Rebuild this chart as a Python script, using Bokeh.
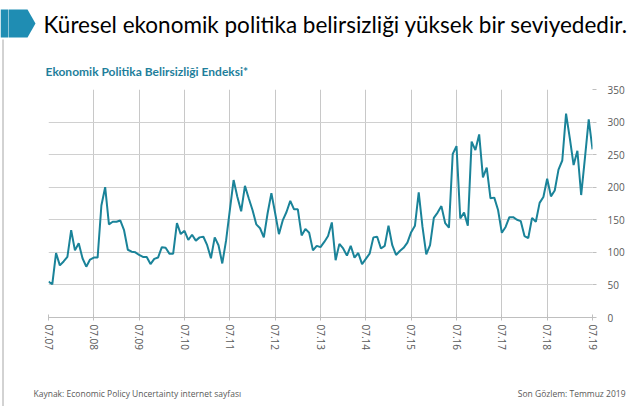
from bokeh.plotting import figure
from bokeh.layouts import column, row
from bokeh.models import FixedTicker, Range1d, ColumnDataSource
from bokeh.core.properties import value
from bokeh.embed import file_html
from bokeh.resources import INLINE

# ---- data ----
title_text = "Küresel ekonomik politika belirsizliği yüksek bir seviyededir."
subtitle_text = "Ekonomik Politika Belirsizliği Endeksi*"
source_text = "Kaynak: Economic Policy Uncertainty internet sayfası"
last_obs_text = "Son Gözlem: Temmuz 2019"

year_labels = ["07.07", "07.08", "07.09", "07.10", "07.11", "07.12", "07.13",
               "07.14", "07.15", "07.16", "07.17", "07.18", "07.19"]
y_ticks = [0, 50, 100, 150, 200, 250, 300, 350]

epu = [55, 51, 99, 80, 86, 93, 134, 103, 114, 91, 78, 89,
       92, 92, 172, 200, 143, 147, 147, 149, 134, 104, 101, 100,
       96, 93, 93, 82, 90, 92, 108, 107, 98, 98, 145, 128,
       133, 119, 127, 118, 123, 124, 111, 91, 123, 111, 83, 118,
       165, 211, 185, 163, 202, 183, 165, 143, 137, 123, 160, 191,
       160, 128, 149, 162, 179, 166, 166, 126, 136, 130, 103, 110,
       108, 116, 125, 146, 88, 113, 106, 95, 110, 92, 99, 82,
       90, 98, 123, 124, 106, 110, 141, 111, 96, 102, 107, 115,
       131, 141, 192, 139, 97, 111, 153, 161, 171, 145, 138, 251,
       263, 152, 161, 141, 270, 257, 281, 215, 230, 183, 184, 165,
       130, 139, 154, 154, 150, 148, 125, 122, 153, 147, 176, 185,
       213, 186, 195, 227, 241, 313, 275, 234, 256, 188, 245, 304,
       258]
months = list(range(len(epu)))

TOTAL_W, TOTAL_H = 640, 406
STRIP_W = 8
W = TOTAL_W - STRIP_W
HEAD_H, MAIN_H = 80, 300
FOOT_H = TOTAL_H - HEAD_H - MAIN_H
FRAME_L, FRAME_R, FRAME_T, FRAME_B = 48, 592, 89, 317
N = len(epu) - 1
BORDER = "#a6a6a6"

def blank(w, h, x0, y0):
    f = figure(width=w, height=h, output_backend="svg", toolbar_location=None,
               x_range=Range1d(x0, x0 + w), y_range=Range1d(y0 + h, y0),
               min_border=0, frame_align=False)
    f.axis.visible = False
    f.grid.visible = False
    f.outline_line_color = None
    f.background_fill_color = "white"
    f.border_fill_color = "white"
    return f

# ---- left slide border strip ----
strip = blank(STRIP_W, TOTAL_H, 0, 0)
strip.patch([0, 8, 8, 0], [9, 9, 37, 37], fill_color="#1f8db3", line_color=None)
strip.segment(x0=[2.5], y0=[39], x1=[2.5], y1=[TOTAL_H], line_color=BORDER, line_width=1)

# ---- header ----
head = blank(W, HEAD_H, STRIP_W, 0)
head.patch([0, 27, 35, 27, 0], [9, 9, 23, 37, 37], fill_color="#1f8db3", line_color=None)
head.text(x=[43], y=[24], text=[title_text], text_font=value("Lato"),
          text_font_size="22.5px", text_color="#000000",
          text_align="left", text_baseline="middle")
head.text(x=[45], y=[71], text=[subtitle_text], text_font=value("Lato"),
          text_font_style="bold", text_font_size="12px", text_color="#1f7f9c",
          text_align="left", text_baseline="middle")

# ---- main chart ----
p = figure(width=W, height=MAIN_H, output_backend="svg", toolbar_location=None,
           x_range=Range1d(0, N), y_range=Range1d(0, 350),
           y_axis_location="right", frame_align=False,
           min_border_left=FRAME_L - STRIP_W, min_border_right=TOTAL_W - FRAME_R,
           min_border_top=FRAME_T - HEAD_H,
           min_border_bottom=HEAD_H + MAIN_H - FRAME_B)
p.outline_line_color = None
p.background_fill_color = "white"
p.border_fill_color = "white"

xt = [i * 12 for i in range(len(year_labels))]
p.xaxis.ticker = FixedTicker(ticks=xt)
p.xaxis.major_label_overrides = {t: l for t, l in zip(xt, year_labels)}
p.xaxis.major_label_orientation = "vertical"
p.xaxis.axis_line_color = "#bfbfbf"
p.xaxis.major_tick_line_color = "#bfbfbf"
p.xaxis.major_tick_in = 3
p.xaxis.major_tick_out = 3
p.xaxis.minor_tick_line_color = None
p.xaxis.major_label_text_color = "#595959"
p.xaxis.major_label_text_font = "Open Sans"
p.xaxis.major_label_text_font_size = "10px"
p.xaxis.major_label_standoff = 4

p.yaxis.ticker = FixedTicker(ticks=y_ticks)
p.yaxis.axis_line_color = None
p.yaxis.major_tick_line_color = "#bfbfbf"
p.yaxis.major_tick_in = 0
p.yaxis.major_tick_out = 4
p.yaxis.minor_tick_line_color = None
p.yaxis.major_label_text_color = "#595959"
p.yaxis.major_label_text_font = "Open Sans"
p.yaxis.major_label_text_font_size = "10px"
p.yaxis.major_label_standoff = 11

p.xgrid.ticker = FixedTicker(ticks=xt)
p.ygrid.ticker = FixedTicker(ticks=y_ticks)
p.xgrid.grid_line_color = "#c8c8c8"
p.ygrid.grid_line_color = "#d0d0d0"

src = ColumnDataSource(data=dict(m=months, v=epu))
p.line("m", "v", source=src, line_color="#1a8399", line_width=2)

# ---- footer ----
foot = blank(W, FOOT_H, STRIP_W, HEAD_H + MAIN_H)
foot.text(x=[33], y=[393], text=[source_text], text_font=value("Open Sans"),
          text_font_size="8.5px", text_color="#595959",
          text_align="left", text_baseline="middle")
foot.text(x=[625], y=[393], text=[last_obs_text], text_font=value("Open Sans"),
          text_font_size="8.5px", text_color="#595959",
          text_align="right", text_baseline="middle")

layout = row(strip, column(head, p, foot, spacing=0), spacing=0)
open("out.html", "w").write(file_html(layout, INLINE))
